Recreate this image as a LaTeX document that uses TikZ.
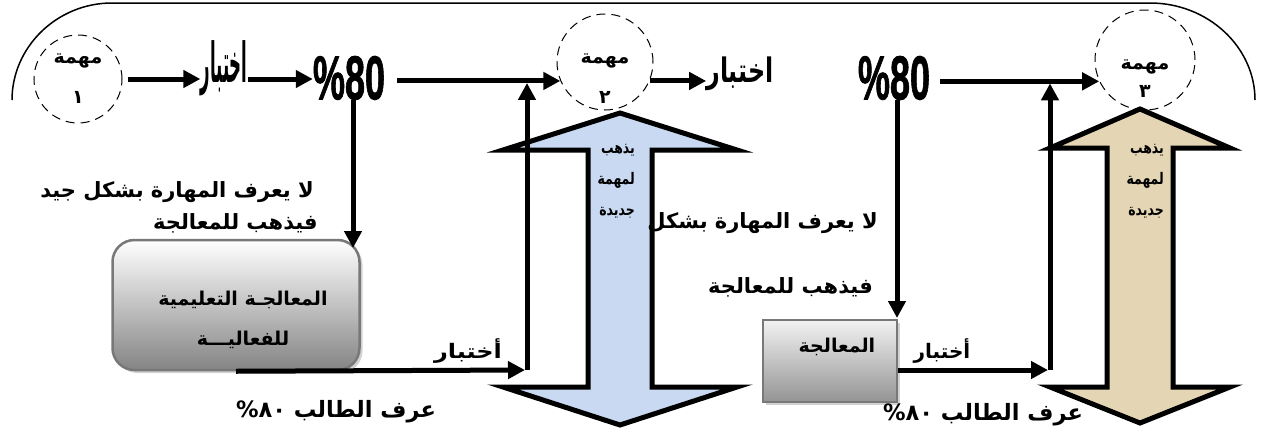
\documentclass[tikz,border=0pt]{standalone}
\usepackage{fontspec}
\usetikzlibrary{arrows.meta,shadows,calc}
\TeXXeTstate=1
\newfontfamily\arabicfont[Script=Arabic]{DejaVu Sans}
\newfontfamily\heavyfont[FakeBold=1.5]{Liberation Sans Bold}
\newcommand{\artxt}[1]{{\arabicfont\bfseries\beginR #1\endR}}
\newcommand{\narrowar}[1]{\scalebox{0.78}[1]{\artxt{#1}}}
\newcommand{\pctar}{\beginL\%\kern0pt ٨٠\endL}
\definecolor{paleblue}{RGB}{200,217,241}
\definecolor{paletan}{RGB}{228,214,180}
\definecolor{boxedge}{RGB}{120,120,120}
\tikzset{
  task/.style={circle, draw, dash pattern=on 9pt off 6pt, line width=1pt,
    minimum size=#1, inner sep=0pt},
  tasktext/.style={inner sep=0pt, align=center},
  arr/.style={line width=5pt, -{Triangle[length=17pt,width=17pt]}},
  lbl/.style={inner sep=0pt, font=\fontsize{21}{26}\selectfont},
  sidetext/.style={inner sep=0pt, align=right, font=\fontsize{16}{31}\selectfont},
  bigarrow/.style={draw, line width=5pt, miter limit=12},
  pct/.style={inner sep=0pt, font=\heavyfont\fontsize{40}{40}\selectfont}
}
\begin{document}
\begin{tikzpicture}[x=1pt,y=-1pt]
\useasboundingbox (0,0) rectangle (1261,434);
\fill[white] (0,0) rectangle (1261,434);

% frame arc over the top
\draw[line width=1.5pt] (12,100) .. controls (12,47) and (57,3) .. (112,3)
  -- (1150,3) .. controls (1208,3) and (1255,47) .. (1255,100);

% double arrows
\draw[bigarrow, fill=paleblue] (620,113) -- (737,150) -- (652,150) -- (652,387)
  -- (737,387) -- (620,425) -- (503,387) -- (588,387) -- (588,150) -- (503,150) -- cycle;
\draw[bigarrow, fill=paletan] (1140,109) -- (1230,148) -- (1173,148) -- (1173,387)
  -- (1230,387) -- (1140,423) -- (1050,387) -- (1107,387) -- (1107,148) -- (1050,148) -- cycle;

% task circles
\node[task=88] (t1) at (78,79) {};
\node[task=96] (t2) at (605,62) {};
\node[task=100] (t3) at (1145,60) {};
\node[tasktext, font=\fontsize{19}{40}\selectfont] (t1l) at (78,79) {\artxt{مهمة}\\\artxt{١}};
\node[tasktext, font=\fontsize{19}{40}\selectfont] (t2l) at (605,79) {\artxt{مهمة}\\\artxt{٢}};
\node[tasktext, font=\fontsize{19}{28}\selectfont] (t3l) at (1145,79) {\artxt{مهمة}\\\artxt{٣}};

% top row
\node[inner sep=0pt] (x1) at (224,68) {\scalebox{0.72}[2.4]{\fontsize{23}{23}\selectfont\artxt{اختبار}}};
\node[pct] (p1) at (349,78) {\scalebox{0.9}[1.55]{\%80}};
\node[inner sep=0pt] (x2) at (740,74) {\scalebox{0.95}[1.35]{\fontsize{25}{25}\selectfont\artxt{اختبار}}};
\node[pct] (p2) at (894,78) {\scalebox{0.9}[1.55]{\%80}};

\draw[arr, shorten <=5pt] (t1.east) -- (x1.west |- t1.east);
\draw[arr] (x1.east |- t1.east) -- (p1.west |- t1.east);
\draw[arr, shorten <=12pt] (p1.east |- t2.203) -- (t2.203);
\draw[arr] (t2.337) -- (x2.west |- t2.337);
\draw[arr, shorten <=10pt] (p2.east |- t3.205) -- (t3.205);

% remedial boxes
\node[draw=boxedge, line width=2.5pt, rounded corners=22pt, top color=white,
  bottom color=black!48, drop shadow={shadow xshift=3pt, shadow yshift=-3pt, fill=black!35},
  minimum width=247pt, minimum height=130pt] (b1) at (236,305) {};
\node[inner sep=0pt, align=center, font=\fontsize{19}{40}\selectfont] (b1l) at (243,320)
  {\artxt{المعالجـة التعليمية}\\\artxt{للفعاليـــة}};
\node[draw=boxedge, line width=2.5pt, top color=black!5, bottom color=black!42,
  drop shadow={shadow xshift=3pt, shadow yshift=-3pt, fill=black!35},
  minimum width=134pt, minimum height=82pt] (b2) at (830,361) {};
\node[inner sep=0pt, font=\fontsize{19}{24}\selectfont] (b2l) at (837,347) {\artxt{المعالجة}};

% failure paths
\coordinate (d1) at (353,248);
\coordinate (d2) at (897,318);
\draw[arr] (p1.south -| d1) -- (d1);
\draw[arr] (p2.south -| d2) -- (d2);

% retest paths back to the next task
\coordinate (u1) at (527,370);
\coordinate (u2) at (1050,370);
\draw[arr, shorten >=2pt] (b1.south) -- (u1);
\draw[arr, shorten >=2pt] (u1) -- (u1 |- t2.203);
\draw[arr, shorten >=2pt] (b2.east |- u2) -- (u2);
\draw[arr, shorten >=2pt] (u2) -- (u2 |- t3.205);

% labels
\node[lbl, anchor=east] (n1a) at (314,192) {\artxt{لا يعرف المهارة بشكل جيد}};
\node[lbl, anchor=east] (n1b) at (318,223) {\artxt{فيذهب للمعالجة}};
\node[inner sep=0pt] (r1) at (468,351) {\scalebox{1.2}[1]{\fontsize{20}{24}\selectfont\artxt{أختبار}}};
\node[lbl, font=\fontsize{22.5}{26}\selectfont] (k1) at (336,412) {\artxt{عرف الطالب \pctar}};
\node[sidetext, anchor=north east] (g1) at (635,144)
  {\narrowar{يذهب}\\\narrowar{لمهمة}\\\narrowar{جديدة}};

\node[lbl, anchor=east] (n2a) at (878,223) {\artxt{لا يعرف المهارة بشكل}};
\node[lbl, anchor=east] (n2b) at (873,287) {\artxt{فيذهب للمعالجة}};
\node[inner sep=0pt, font=\fontsize{20}{24}\selectfont] (r2) at (942,351) {\artxt{أختبار}};
\node[lbl, font=\fontsize{22.5}{26}\selectfont] (k2) at (983,415) {\artxt{عرف الطالب \pctar}};
\node[sidetext, anchor=north east] (g2) at (1164,144)
  {\narrowar{يذهب}\\\narrowar{لمهمة}\\\narrowar{جديدة}};
\end{tikzpicture}
\end{document}
